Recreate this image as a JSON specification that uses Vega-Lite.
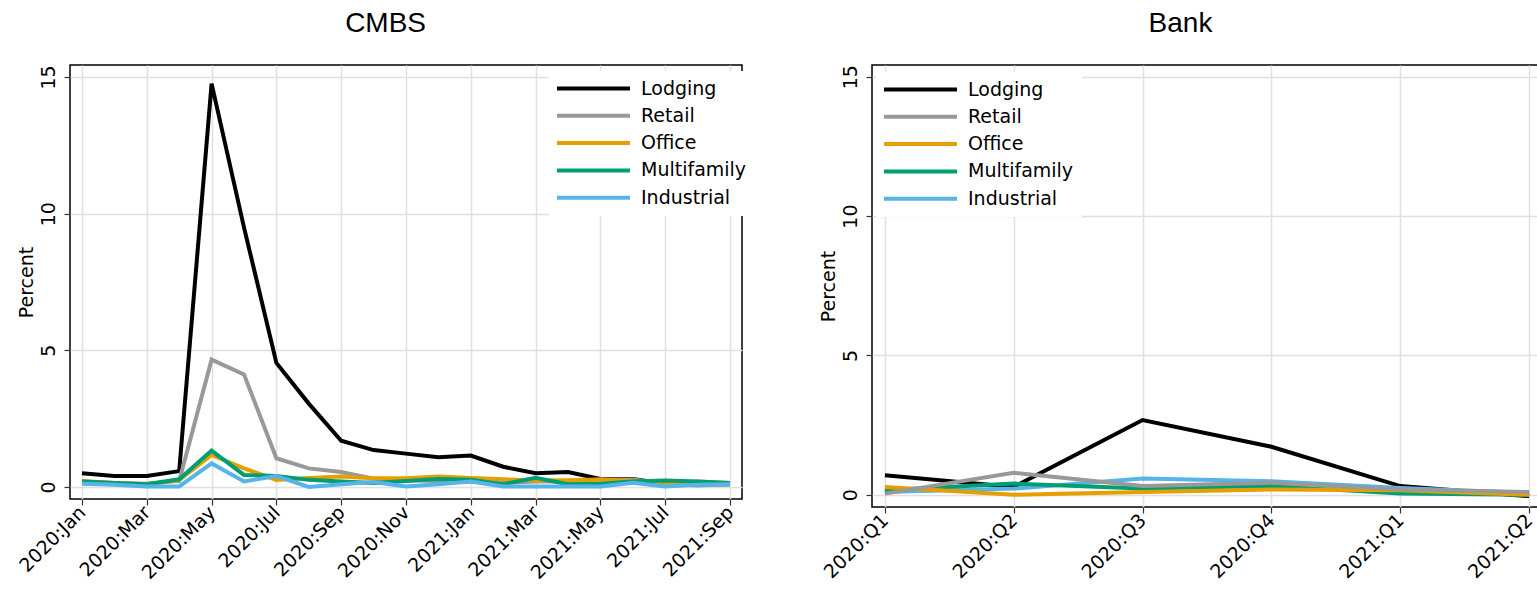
{
  "$schema": "https://vega.github.io/schema/vega-lite/v6.json",
  "background": "white",
  "padding": {"left": 15, "top": 8, "right": 0, "bottom": 0},
  "spacing": 62,
  "config": {
    "font": "DejaVu Sans",
    "view": {"stroke": "#000000", "strokeWidth": 1.5},
    "axis": {
      "domain": false,
      "gridColor": "#e0e0e0",
      "gridWidth": 1.5,
      "tickColor": "#333333",
      "tickSize": 6,
      "tickWidth": 1.2,
      "labelFont": "DejaVu Sans",
      "labelFontSize": 18,
      "labelColor": "#000000",
      "titleFont": "DejaVu Sans",
      "titleFontSize": 18,
      "titleFontWeight": "normal",
      "titleColor": "#000000"
    },
    "title": {"font": "Liberation Sans", "fontSize": 28, "fontWeight": "normal", "frame": "bounds", "anchor": "middle", "color": "#000000", "offset": 27},
    "legend": {
      "title": null,
      "orient": "none",
      "fillColor": "white",
      "padding": 8,
      "symbolType": "M-5,0H5",
      "symbolSize": 213,
      "symbolStrokeWidth": 4,
      "symbolOffset": 27,
      "labelOffset": 38,
      "labelFont": "DejaVu Sans",
      "labelFontSize": 19,
      "labelColor": "#000000",
      "rowPadding": 7.3
    }
  },
  "datasets": {
    "cmbs": [
      {"period": "2020:Jan", "type": "Lodging", "value": 0.5},
      {"period": "2020:Feb", "type": "Lodging", "value": 0.4},
      {"period": "2020:Mar", "type": "Lodging", "value": 0.4},
      {"period": "2020:Apr", "type": "Lodging", "value": 0.58},
      {"period": "2020:May", "type": "Lodging", "value": 14.76},
      {"period": "2020:Jun", "type": "Lodging", "value": 9.5},
      {"period": "2020:Jul", "type": "Lodging", "value": 4.54},
      {"period": "2020:Aug", "type": "Lodging", "value": 3.05},
      {"period": "2020:Sep", "type": "Lodging", "value": 1.69},
      {"period": "2020:Oct", "type": "Lodging", "value": 1.35},
      {"period": "2020:Nov", "type": "Lodging", "value": 1.22},
      {"period": "2020:Dec", "type": "Lodging", "value": 1.09},
      {"period": "2021:Jan", "type": "Lodging", "value": 1.15},
      {"period": "2021:Feb", "type": "Lodging", "value": 0.74},
      {"period": "2021:Mar", "type": "Lodging", "value": 0.5},
      {"period": "2021:Apr", "type": "Lodging", "value": 0.55},
      {"period": "2021:May", "type": "Lodging", "value": 0.29},
      {"period": "2021:Jun", "type": "Lodging", "value": 0.29},
      {"period": "2021:Jul", "type": "Lodging", "value": 0.12},
      {"period": "2021:Aug", "type": "Lodging", "value": 0.1},
      {"period": "2021:Sep", "type": "Lodging", "value": 0.1},
      {"period": "2020:Jan", "type": "Retail", "value": 0.2},
      {"period": "2020:Feb", "type": "Retail", "value": 0.15},
      {"period": "2020:Mar", "type": "Retail", "value": 0.12},
      {"period": "2020:Apr", "type": "Retail", "value": 0.22},
      {"period": "2020:May", "type": "Retail", "value": 4.66},
      {"period": "2020:Jun", "type": "Retail", "value": 4.12},
      {"period": "2020:Jul", "type": "Retail", "value": 1.05},
      {"period": "2020:Aug", "type": "Retail", "value": 0.68},
      {"period": "2020:Sep", "type": "Retail", "value": 0.55},
      {"period": "2020:Oct", "type": "Retail", "value": 0.3},
      {"period": "2020:Nov", "type": "Retail", "value": 0.25},
      {"period": "2020:Dec", "type": "Retail", "value": 0.22},
      {"period": "2021:Jan", "type": "Retail", "value": 0.2},
      {"period": "2021:Feb", "type": "Retail", "value": 0.15},
      {"period": "2021:Mar", "type": "Retail", "value": 0.2},
      {"period": "2021:Apr", "type": "Retail", "value": 0.2},
      {"period": "2021:May", "type": "Retail", "value": 0.27},
      {"period": "2021:Jun", "type": "Retail", "value": 0.27},
      {"period": "2021:Jul", "type": "Retail", "value": 0.12},
      {"period": "2021:Aug", "type": "Retail", "value": 0.05},
      {"period": "2021:Sep", "type": "Retail", "value": 0.1},
      {"period": "2020:Jan", "type": "Office", "value": 0.22},
      {"period": "2020:Feb", "type": "Office", "value": 0.15},
      {"period": "2020:Mar", "type": "Office", "value": 0.1},
      {"period": "2020:Apr", "type": "Office", "value": 0.25},
      {"period": "2020:May", "type": "Office", "value": 1.17},
      {"period": "2020:Jun", "type": "Office", "value": 0.68},
      {"period": "2020:Jul", "type": "Office", "value": 0.26},
      {"period": "2020:Aug", "type": "Office", "value": 0.33},
      {"period": "2020:Sep", "type": "Office", "value": 0.38},
      {"period": "2020:Oct", "type": "Office", "value": 0.32},
      {"period": "2020:Nov", "type": "Office", "value": 0.32},
      {"period": "2020:Dec", "type": "Office", "value": 0.38},
      {"period": "2021:Jan", "type": "Office", "value": 0.33},
      {"period": "2021:Feb", "type": "Office", "value": 0.28},
      {"period": "2021:Mar", "type": "Office", "value": 0.24},
      {"period": "2021:Apr", "type": "Office", "value": 0.25},
      {"period": "2021:May", "type": "Office", "value": 0.27},
      {"period": "2021:Jun", "type": "Office", "value": 0.22},
      {"period": "2021:Jul", "type": "Office", "value": 0.15},
      {"period": "2021:Aug", "type": "Office", "value": 0.2},
      {"period": "2021:Sep", "type": "Office", "value": 0.15},
      {"period": "2020:Jan", "type": "Multifamily", "value": 0.2},
      {"period": "2020:Feb", "type": "Multifamily", "value": 0.15},
      {"period": "2020:Mar", "type": "Multifamily", "value": 0.1},
      {"period": "2020:Apr", "type": "Multifamily", "value": 0.28},
      {"period": "2020:May", "type": "Multifamily", "value": 1.33},
      {"period": "2020:Jun", "type": "Multifamily", "value": 0.44},
      {"period": "2020:Jul", "type": "Multifamily", "value": 0.4},
      {"period": "2020:Aug", "type": "Multifamily", "value": 0.26},
      {"period": "2020:Sep", "type": "Multifamily", "value": 0.2},
      {"period": "2020:Oct", "type": "Multifamily", "value": 0.15},
      {"period": "2020:Nov", "type": "Multifamily", "value": 0.22},
      {"period": "2020:Dec", "type": "Multifamily", "value": 0.29},
      {"period": "2021:Jan", "type": "Multifamily", "value": 0.26},
      {"period": "2021:Feb", "type": "Multifamily", "value": 0.1},
      {"period": "2021:Mar", "type": "Multifamily", "value": 0.34},
      {"period": "2021:Apr", "type": "Multifamily", "value": 0.1},
      {"period": "2021:May", "type": "Multifamily", "value": 0.12},
      {"period": "2021:Jun", "type": "Multifamily", "value": 0.2},
      {"period": "2021:Jul", "type": "Multifamily", "value": 0.24},
      {"period": "2021:Aug", "type": "Multifamily", "value": 0.2},
      {"period": "2021:Sep", "type": "Multifamily", "value": 0.15},
      {"period": "2020:Jan", "type": "Industrial", "value": 0.12},
      {"period": "2020:Feb", "type": "Industrial", "value": 0.08},
      {"period": "2020:Mar", "type": "Industrial", "value": 0.02},
      {"period": "2020:Apr", "type": "Industrial", "value": 0.02},
      {"period": "2020:May", "type": "Industrial", "value": 0.86},
      {"period": "2020:Jun", "type": "Industrial", "value": 0.2},
      {"period": "2020:Jul", "type": "Industrial", "value": 0.4},
      {"period": "2020:Aug", "type": "Industrial", "value": 0.0},
      {"period": "2020:Sep", "type": "Industrial", "value": 0.1},
      {"period": "2020:Oct", "type": "Industrial", "value": 0.18},
      {"period": "2020:Nov", "type": "Industrial", "value": 0.02},
      {"period": "2020:Dec", "type": "Industrial", "value": 0.1},
      {"period": "2021:Jan", "type": "Industrial", "value": 0.2},
      {"period": "2021:Feb", "type": "Industrial", "value": 0.02},
      {"period": "2021:Mar", "type": "Industrial", "value": 0.02},
      {"period": "2021:Apr", "type": "Industrial", "value": 0.02},
      {"period": "2021:May", "type": "Industrial", "value": 0.02},
      {"period": "2021:Jun", "type": "Industrial", "value": 0.15},
      {"period": "2021:Jul", "type": "Industrial", "value": 0.02},
      {"period": "2021:Aug", "type": "Industrial", "value": 0.08},
      {"period": "2021:Sep", "type": "Industrial", "value": 0.1}
    ],
    "bank": [
      {"period": "2020:Q1", "type": "Lodging", "value": 0.7},
      {"period": "2020:Q2", "type": "Lodging", "value": 0.28},
      {"period": "2020:Q3", "type": "Lodging", "value": 2.68},
      {"period": "2020:Q4", "type": "Lodging", "value": 1.72},
      {"period": "2021:Q1", "type": "Lodging", "value": 0.31},
      {"period": "2021:Q2", "type": "Lodging", "value": -0.05},
      {"period": "2020:Q1", "type": "Industrial", "value": 0.1},
      {"period": "2020:Q2", "type": "Industrial", "value": 0.22},
      {"period": "2020:Q3", "type": "Industrial", "value": 0.58},
      {"period": "2020:Q4", "type": "Industrial", "value": 0.48},
      {"period": "2021:Q1", "type": "Industrial", "value": 0.24},
      {"period": "2021:Q2", "type": "Industrial", "value": 0.07},
      {"period": "2020:Q1", "type": "Multifamily", "value": 0.16},
      {"period": "2020:Q2", "type": "Multifamily", "value": 0.4},
      {"period": "2020:Q3", "type": "Multifamily", "value": 0.22},
      {"period": "2020:Q4", "type": "Multifamily", "value": 0.31},
      {"period": "2021:Q1", "type": "Multifamily", "value": 0.04},
      {"period": "2021:Q2", "type": "Multifamily", "value": 0.0},
      {"period": "2020:Q1", "type": "Office", "value": 0.28},
      {"period": "2020:Q2", "type": "Office", "value": 0.0},
      {"period": "2020:Q3", "type": "Office", "value": 0.1},
      {"period": "2020:Q4", "type": "Office", "value": 0.19},
      {"period": "2021:Q1", "type": "Office", "value": 0.16},
      {"period": "2021:Q2", "type": "Office", "value": 0.0},
      {"period": "2020:Q1", "type": "Retail", "value": 0.04},
      {"period": "2020:Q2", "type": "Retail", "value": 0.79},
      {"period": "2020:Q3", "type": "Retail", "value": 0.31},
      {"period": "2020:Q4", "type": "Retail", "value": 0.43},
      {"period": "2021:Q1", "type": "Retail", "value": 0.19},
      {"period": "2021:Q2", "type": "Retail", "value": 0.1}
    ]
  },
  "resolve": {"legend": {"color": "independent"}},
  "hconcat": [
    {
      "title": {"text": "CMBS"},
      "width": 672,
      "height": 434,
      "data": {"name": "cmbs"},
      "mark": {"type": "line", "strokeWidth": 4},
      "encoding": {
        "x": {
          "field": "period",
          "type": "ordinal",
          "scale": {"type": "point", "padding": 0.37, "domain": ["2020:Jan","2020:Feb","2020:Mar","2020:Apr","2020:May","2020:Jun","2020:Jul","2020:Aug","2020:Sep","2020:Oct","2020:Nov","2020:Dec","2021:Jan","2021:Feb","2021:Mar","2021:Apr","2021:May","2021:Jun","2021:Jul","2021:Aug","2021:Sep"]},
          "axis": {"title": null, "grid": true, "values": ["2020:Jan","2020:Mar","2020:May","2020:Jul","2020:Sep","2020:Nov","2021:Jan","2021:Mar","2021:May","2021:Jul","2021:Sep"], "labelAngle": -45, "labelAlign": "right", "labelBaseline": "middle", "labelPadding": 4, "labelFont": "DejaVu Sans", "labelFontSize": 19}
        },
        "y": {
          "field": "value",
          "type": "quantitative",
          "scale": {"domain": [-0.44, 15.44], "nice": false, "zero": false},
          "axis": {"title": "Percent", "values": [0, 5, 10, 15], "labelAngle": -90, "labelAlign": "center", "labelBaseline": "bottom", "labelPadding": 6, "titlePadding": 3, "labelFont": "DejaVu Sans", "labelFontSize": 19, "titleFont": "DejaVu Sans", "titleFontSize": 19}
        },
        "color": {
          "field": "type",
          "type": "nominal",
          "scale": {"domain": ["Lodging", "Retail", "Office", "Multifamily", "Industrial"], "range": ["#000000", "#999999", "#E69F00", "#009E73", "#56B4E9"]},
          "legend": {"orient": "none", "legendX": 479, "legendY": 6}
        }
      }
    },
    {
      "title": {"text": "Bank"},
      "width": 670,
      "height": 442,
      "data": {"name": "bank"},
      "mark": {"type": "line", "strokeWidth": 4},
      "encoding": {
        "x": {
          "field": "period",
          "type": "ordinal",
          "scale": {"type": "point", "padding": 0.1, "domain": ["2020:Q1","2020:Q2","2020:Q3","2020:Q4","2021:Q1","2021:Q2"]},
          "axis": {"title": null, "grid": true, "labelAngle": -45, "labelAlign": "right", "labelBaseline": "middle", "labelPadding": 4, "labelFont": "DejaVu Sans", "labelFontSize": 19}
        },
        "y": {
          "field": "value",
          "type": "quantitative",
          "scale": {"domain": [-0.44, 15.42], "nice": false, "zero": false},
          "axis": {"title": "Percent", "values": [0, 5, 10, 15], "labelAngle": -90, "labelAlign": "center", "labelBaseline": "bottom", "labelPadding": 6, "titlePadding": 3, "labelFont": "DejaVu Sans", "labelFontSize": 19, "titleFont": "DejaVu Sans", "titleFontSize": 19}
        },
        "color": {
          "field": "type",
          "type": "nominal",
          "scale": {"domain": ["Lodging", "Retail", "Office", "Multifamily", "Industrial"], "range": ["#000000", "#999999", "#E69F00", "#009E73", "#56B4E9"]},
          "legend": {"orient": "none", "legendX": 4, "legendY": 7}
        }
      }
    }
  ]
}
